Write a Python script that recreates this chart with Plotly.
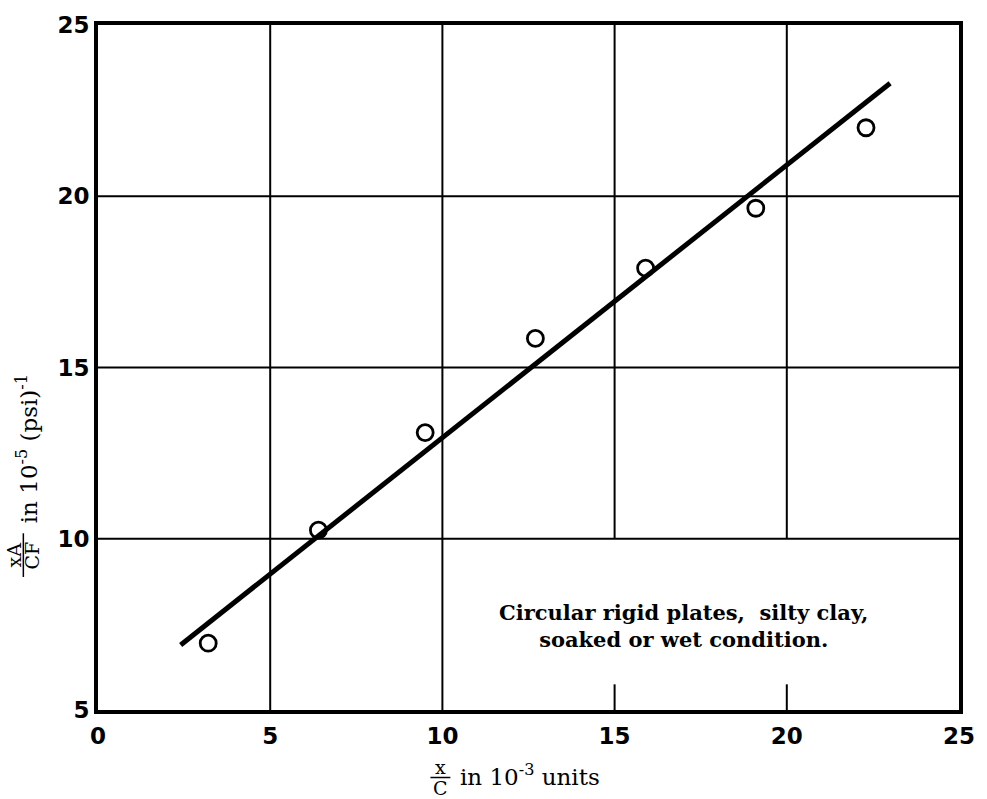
import plotly.graph_objects as go

# ---- data ----
x_vals = [3.2, 6.4, 9.5, 12.7, 15.9, 19.1, 22.3]
y_vals = [6.95, 10.25, 13.1, 15.85, 17.9, 19.65, 22.0]
fit_x = [2.4, 23.0]
fit_y = [6.9, 23.3]
x_ticks = [0, 5, 10, 15, 20, 25]
y_ticks = [5, 10, 15, 20, 25]
x_grid_full = [5, 10]
x_grid_broken = [15, 20]
y_grid = [10, 15, 20]
note_text = "Circular rigid plates,  silty clay,<br>soaked or wet condition."

W, H = 987, 799
L, R, T, B = 98, 24, 20, 89
PW, PH = W - L - R, H - T - B


def px(xp):
    return (xp - L) / PW


def py(yp):
    return (H - B - yp) / PH


fig = go.Figure()
fig.add_trace(go.Scatter(x=fit_x, y=fit_y, mode="lines",
                         line=dict(color="black", width=5), showlegend=False))
fig.add_trace(go.Scatter(x=x_vals, y=y_vals, mode="markers",
                         marker=dict(symbol="circle-open", size=16, color="black",
                                     line=dict(width=2.8, color="black")),
                         showlegend=False))

shapes = []
for g in y_grid:
    shapes.append(dict(type="line", xref="x", yref="y", x0=x_ticks[0], x1=x_ticks[-1],
                       y0=g, y1=g, line=dict(color="black", width=2), layer="below"))
for g in x_grid_full:
    shapes.append(dict(type="line", xref="x", yref="y", x0=g, x1=g,
                       y0=y_ticks[0], y1=y_ticks[-1], line=dict(color="black", width=2), layer="below"))
for g in x_grid_broken:
    shapes.append(dict(type="line", xref="x", yref="y", x0=g, x1=g,
                       y0=y_grid[0], y1=y_ticks[-1], line=dict(color="black", width=2), layer="below"))
    shapes.append(dict(type="line", xref="x", yref="y", x0=g, x1=g,
                       y0=y_ticks[0], y1=y_ticks[0] + 0.75, line=dict(color="black", width=2), layer="below"))

# fraction bars for axis titles
shapes.append(dict(type="line", xref="paper", yref="paper", x0=px(432), x1=px(452),
                   y0=py(778), y1=py(778), line=dict(color="black", width=1.5)))
shapes.append(dict(type="line", xref="paper", yref="paper", x0=px(23), x1=px(23),
                   y0=py(532), y1=py(576), line=dict(color="black", width=1.5)))

serif = "DejaVu Serif"
C = dict(xanchor="center", yanchor="middle", showarrow=False)
ann = [
    dict(x=17.0, y=7.45, xref="x", yref="y", text=note_text, **C,
         font=dict(family=serif, size=21, color="black", weight="bold"), align="center"),
    # x-axis title
    dict(x=px(442), y=py(767), xref="paper", yref="paper", text="x", **C,
         font=dict(family=serif, size=19, color="black")),
    dict(x=px(442), y=py(789), xref="paper", yref="paper", text="C", **C,
         font=dict(family=serif, size=19, color="black")),
    dict(x=px(460), y=py(775), xref="paper", yref="paper", xanchor="left", yanchor="middle",
         text="in 10<sup>-3</sup> units", showarrow=False,
         font=dict(family=serif, size=23, color="black")),
    # y-axis title
    dict(x=px(14), y=py(554), xref="paper", yref="paper", text="xA", **C,
         textangle=-90, font=dict(family=serif, size=19, color="black")),
    dict(x=px(32), y=py(554), xref="paper", yref="paper", text="CF", **C,
         textangle=-90, font=dict(family=serif, size=19, color="black")),
    dict(x=px(27), y=py(447), xref="paper", yref="paper", text="in 10<sup>-5</sup> (psi)<sup>-1</sup>",
         **C, textangle=-90, font=dict(family=serif, size=23, color="black")),
]

tickfont = dict(family="DejaVu Sans", size=23, color="black", weight="bold")
fig.update_layout(
    width=W, height=H,
    margin=dict(l=L, r=R, t=T, b=B),
    paper_bgcolor="white", plot_bgcolor="white",
    shapes=shapes, annotations=ann,
    xaxis=dict(range=[x_ticks[0], x_ticks[-1]], tickvals=x_ticks, showgrid=False,
               zeroline=False, showline=True, linewidth=4, linecolor="black", mirror=True,
               ticks="", tickfont=tickfont, ticklabelstandoff=2),
    yaxis=dict(range=[y_ticks[0], y_ticks[-1]], tickvals=y_ticks, showgrid=False,
               zeroline=False, showline=True, linewidth=4, linecolor="black", mirror=True,
               ticks="", tickfont=tickfont, ticklabelstandoff=0),
)

fig.write_html("out.html")
